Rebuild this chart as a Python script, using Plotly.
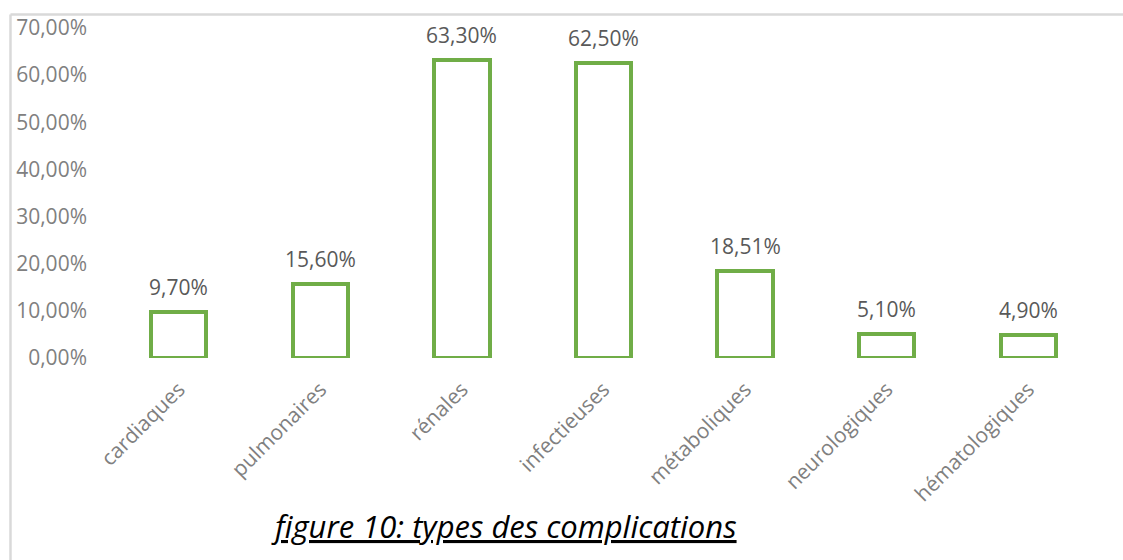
import plotly.graph_objects as go

# Types of complications and their share of patients (%)
categories = ["cardiaques", "pulmonaires", "rénales", "infectieuses",
              "métaboliques", "neurologiques", "hématologiques"]
values = [9.70, 15.60, 63.30, 62.50, 18.51, 5.10, 4.90]
y_ticks = [0, 10, 20, 30, 40, 50, 60, 70]
caption = "figure 10: types des complications"

GREEN = "#70AD47"
AXIS_GREY = "#808080"
LABEL_GREY = "#595959"
FONT = "Open Sans"


def fr_pct(v):
    return f"{v:.2f}".replace(".", ",") + "%"


fig = go.Figure()
fig.add_trace(go.Bar(
    x=categories,
    y=values,
    width=0.39,
    marker=dict(color="white", line=dict(color=GREEN, width=4)),
    hoverinfo="skip",
))

# value labels above each bar
for c, v in zip(categories, values):
    fig.add_annotation(
        x=c, y=v, text=fr_pct(v), showarrow=False,
        yanchor="middle", yshift=25,
        font=dict(family=FONT, size=21, color=LABEL_GREY),
    )

# caption under the chart
fig.add_annotation(
    xref="paper", yref="paper", x=0.40, y=-0.51,
    xanchor="center", yanchor="middle",
    text=caption, showarrow=False,
    font=dict(family=FONT, size=31, color="black", style="italic",
              lineposition="under"),
)

# light frame along the top and left edges
fig.add_shape(type="line", xref="paper", yref="paper",
              x0=-0.0984, x1=1.03, y0=1.0409, y1=1.0409,
              line=dict(color="#d9d9d9", width=2.5))
fig.add_shape(type="line", xref="paper", yref="paper",
              x0=-0.0984, x1=-0.0984, y0=1.0409, y1=-0.7,
              line=dict(color="#d9d9d9", width=2.5))

fig.update_layout(
    width=1123, height=560,
    margin=dict(l=108, r=24, t=28, b=202),
    paper_bgcolor="white", plot_bgcolor="white",
    showlegend=False,
    bargap=0,
)
fig.update_xaxes(
    type="category", tickangle=-45, showgrid=False, showline=False,
    zeroline=False, ticks="", ticklabelstandoff=14,
    tickfont=dict(family=FONT, size=21, color=AXIS_GREY),
)
fig.update_yaxes(
    range=[0, 70], tickvals=y_ticks, ticktext=[fr_pct(t) for t in y_ticks],
    showgrid=False, showline=False, zeroline=False, ticks="",
    ticklabelstandoff=20,
    tickfont=dict(family=FONT, size=21, color=AXIS_GREY),
)

fig.write_html("out.html")
